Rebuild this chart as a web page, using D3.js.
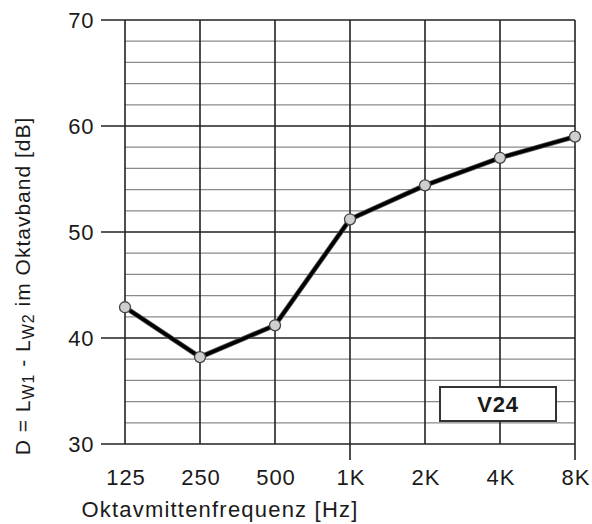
<!DOCTYPE html>
<html>
<head>
<meta charset="utf-8">
<script src="https://cdn.jsdelivr.net/npm/d3@7"></script>
<style>
  body { margin: 0; background: #fff; }
  text { font-family: "Liberation Sans", Arial, sans-serif; fill: #1a1a1a; }
</style>
</head>
<body>
<script>
// octave band centre frequencies and measured level difference
var bands = ["125", "250", "500", "1K", "2K", "4K", "8K"];
var values = [42.9, 38.2, 41.2, 51.2, 54.4, 57.0, 59.0];
var yTicks = [30, 40, 50, 60, 70];
var yDomain = [30, 70];
var tagText = "V24";

var width = 592, height = 524;
var margin = {left: 125, right: 17, top: 20, bottom: 80};

var svg = d3.select("body").append("svg")
  .attr("width", width)
  .attr("height", height);

var x = d3.scalePoint()
  .domain(bands)
  .range([margin.left, width - margin.right]);

var y = d3.scaleLinear()
  .domain(yDomain)
  .range([height - margin.bottom, margin.top]);

var x0 = x.range()[0], x1 = x.range()[1];
var y0 = y.range()[0], y1 = y.range()[1];

// minor grid every 2 dB
var minor = d3.range(yDomain[0], yDomain[1] + 0.1, 2).filter(function(d) { return d % 10 !== 0; });
svg.append("g").selectAll("line")
  .data(minor)
  .enter().append("line")
    .attr("x1", x0).attr("x2", x1)
    .attr("y1", function(d) { return y(d); })
    .attr("y2", function(d) { return y(d); })
    .attr("stroke", "#8a8a8a")
    .attr("stroke-width", 1.3);

// vertical grid lines at each band
svg.append("g").selectAll("line")
  .data(bands)
  .enter().append("line")
    .attr("x1", function(d) { return x(d); })
    .attr("x2", function(d) { return x(d); })
    .attr("y1", y1)
    .attr("y2", function(d) { return (d === "1K" || d === "8K") ? y0 + 16 : y0; })
    .attr("stroke", "#222")
    .attr("stroke-width", 1.6);

// major lines, extended to the left as ticks
svg.append("g").selectAll("line")
  .data(yTicks)
  .enter().append("line")
    .attr("x1", x0 - 24).attr("x2", x1)
    .attr("y1", function(d) { return y(d); })
    .attr("y2", function(d) { return y(d); })
    .attr("stroke", "#222")
    .attr("stroke-width", 1.6);

// y tick labels
svg.append("g").selectAll("text")
  .data(yTicks)
  .enter().append("text")
    .attr("x", x0 - 31)
    .attr("y", function(d) { return y(d) + 8; })
    .attr("text-anchor", "end")
    .style("font-size", "22px")
    .style("letter-spacing", "0.6px")
    .text(function(d) { return d; });

// x tick labels
svg.append("g").selectAll("text")
  .data(bands)
  .enter().append("text")
    .attr("x", function(d) { return x(d) + 1; })
    .attr("y", y0 + 41)
    .attr("text-anchor", "middle")
    .style("font-size", "22px")
    .style("letter-spacing", "1px")
    .text(function(d) { return d; });

// x axis title
svg.append("text")
  .attr("x", 220)
  .attr("y", 517)
  .attr("text-anchor", "middle")
  .style("font-size", "22px")
  .style("letter-spacing", "1.2px")
  .text("Oktavmittenfrequenz [Hz]");

// y axis title with subscripts
var yt = svg.append("text")
  .attr("transform", "translate(30,286)rotate(-90)")
  .attr("text-anchor", "middle")
  .style("font-size", "21px")
  .style("letter-spacing", "1px");
yt.append("tspan").text("D = L");
yt.append("tspan").attr("dy", 4).style("font-size", "16px").text("W1");
yt.append("tspan").attr("dy", -4).text(" - L");
yt.append("tspan").attr("dy", 4).style("font-size", "16px").text("W2");
yt.append("tspan").attr("dy", -4).text("  im Oktavband [dB]");

// data line
var line = d3.line()
  .x(function(d, i) { return x(bands[i]); })
  .y(function(d) { return y(d); });

svg.append("path")
  .datum(values)
  .attr("d", line)
  .attr("fill", "none")
  .attr("stroke", "#555")
  .attr("stroke-width", 5)
  .attr("stroke-linejoin", "round");
svg.append("path")
  .datum(values)
  .attr("d", line)
  .attr("fill", "none")
  .attr("stroke", "#000")
  .attr("stroke-width", 3.4)
  .attr("stroke-linejoin", "round");

svg.append("g").selectAll("circle")
  .data(values)
  .enter().append("circle")
    .attr("cx", function(d, i) { return x(bands[i]); })
    .attr("cy", function(d) { return y(d); })
    .attr("r", 5.5)
    .attr("fill", "#cfcfcf")
    .attr("stroke", "#444")
    .attr("stroke-width", 1.3);

// tag box
svg.append("rect")
  .attr("x", 440).attr("y", 387)
  .attr("width", 116).attr("height", 34)
  .attr("fill", "#fff")
  .attr("stroke", "#333")
  .attr("stroke-width", 2);
svg.append("text")
  .attr("x", 498).attr("y", 412)
  .attr("text-anchor", "middle")
  .style("font-size", "22px")
  .style("font-weight", "bold")
  .style("letter-spacing", "0.8px")
  .text(tagText);
</script>
</body>
</html>
